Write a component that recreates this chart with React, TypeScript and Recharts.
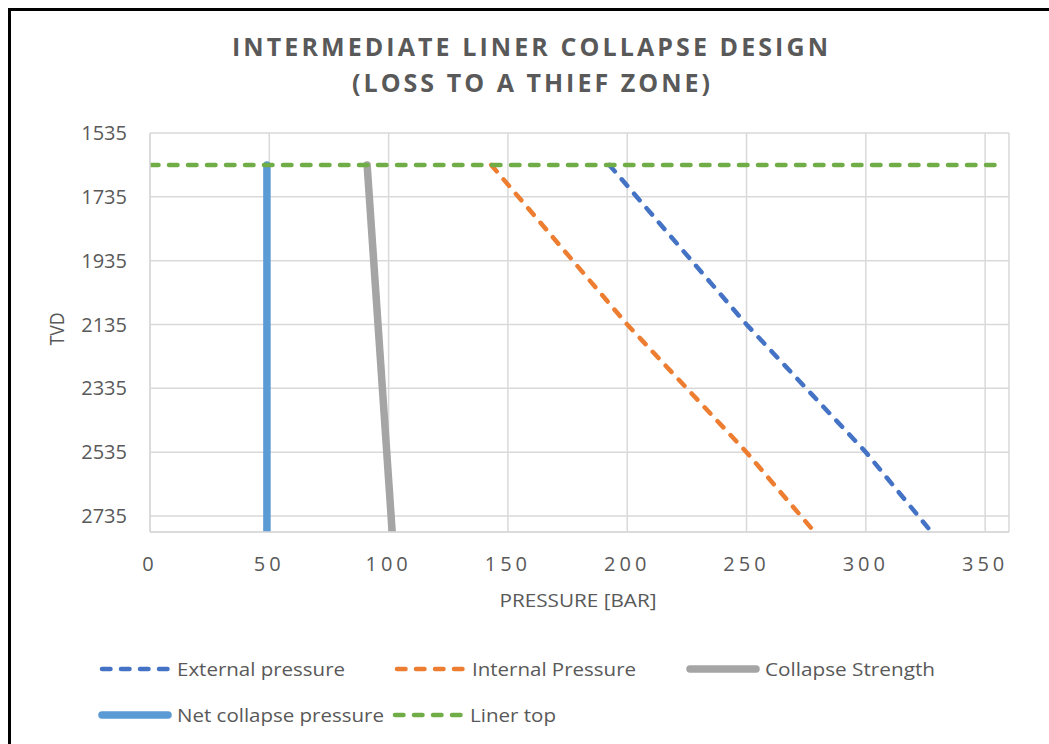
import React from 'react';
import { LineChart, Line, XAxis, YAxis, CartesianGrid } from 'recharts';

const pressureTicks = [0, 50, 100, 150, 200, 250, 300, 350];
const tvdTicks = [1535, 1735, 1935, 2135, 2335, 2535, 2735];

const externalPressure = [
  { pressure: 192.5, tvd: 1635 },
  { pressure: 250, tvd: 2135 },
  { pressure: 300, tvd: 2535 },
  { pressure: 327.5, tvd: 2785 },
];
const internalPressure = [
  { pressure: 143, tvd: 1635 },
  { pressure: 200, tvd: 2135 },
  { pressure: 250, tvd: 2535 },
  { pressure: 278.5, tvd: 2785 },
];
const collapseStrength = [
  { pressure: 91, tvd: 1635 },
  { pressure: 101.5, tvd: 2785 },
];
const netCollapsePressure = [
  { pressure: 49, tvd: 1635 },
  { pressure: 49, tvd: 2785 },
];
const linerTop = [
  { pressure: 0, tvd: 1635 },
  { pressure: 358, tvd: 1635 },
];

const seriesNames = [
  'External pressure',
  'Internal Pressure',
  'Collapse Strength',
  'Net collapse pressure',
  'Liner top',
];
const titleLines = ['INTERMEDIATE LINER COLLAPSE DESIGN', '(LOSS TO A THIEF ZONE)'];
const xAxisTitle = 'PRESSURE [BAR]';
const yAxisTitle = 'TVD';

const FONT = '"Open Sans", "Noto Sans", sans-serif';
const TEXT = '#595959';
const GRID = '#D9D9D9';
const DASH = '8.5 10.5';

const seriesStyles = [
  { data: externalPressure, color: '#4472C4', width: 4.5, dash: DASH },
  { data: internalPressure, color: '#ED7D31', width: 4.5, dash: DASH },
  { data: collapseStrength, color: '#A5A5A5', width: 7.5, dash: undefined },
  { data: netCollapsePressure, color: '#5B9BD5', width: 7.5, dash: undefined },
  { data: linerTop, color: '#70AD47', width: 4.5, dash: DASH },
];

const legendLayout = [
  { x: 100, y: 669, w: 168 },
  { x: 395, y: 669, w: 164 },
  { x: 688, y: 669, w: 170 },
  { x: 100, y: 715, w: 207 },
  { x: 393, y: 715, w: 86 },
];

const XTick = (props: any) => {
  const { x, y, payload } = props;
  return (
    <text x={x} y={y + 39} textAnchor="middle" fontSize={20} fill={TEXT} fontFamily={FONT} letterSpacing={4}>
      {payload.value}
    </text>
  );
};

const YTick = (props: any) => {
  const { x, y, payload } = props;
  return (
    <text x={x - 23} y={y + 7} textAnchor="end" fontSize={20} fill={TEXT} fontFamily={FONT}>
      {payload.value}
    </text>
  );
};

export default function App() {
  return (
    <div style={{ position: 'fixed', left: 0, top: 0, width: 1049, height: 744, background: '#fff', overflow: 'hidden' }}>
      <div
        style={{
          position: 'absolute',
          left: 8,
          top: 8,
          width: 1041,
          height: 736,
          borderTop: '3px solid #000',
          borderLeft: '3px solid #000',
          boxSizing: 'border-box',
        }}
      />
      <div style={{ position: 'absolute', left: 0, top: 0 }}>
        <LineChart width={1049} height={744} margin={{ top: 133, right: 40, bottom: 182, left: 0 }}>
          <CartesianGrid stroke={GRID} strokeWidth={1.5} />
          <XAxis
            type="number"
            dataKey="pressure"
            domain={[0, 360]}
            ticks={pressureTicks}
            allowDataOverflow
            height={30}
            tickSize={0}
            tickMargin={0}
            tickLine={false}
            axisLine={{ stroke: GRID, strokeWidth: 1.5 }}
            tick={<XTick />}
          />
          <YAxis
            type="number"
            dataKey="tvd"
            domain={[1535, 2785]}
            ticks={tvdTicks}
            reversed
            allowDataOverflow
            width={150}
            tickSize={0}
            tickMargin={0}
            tickLine={false}
            axisLine={{ stroke: GRID, strokeWidth: 1.5 }}
            tick={<YTick />}
          />
          {seriesStyles.map((s, i) => (
            <Line
              key={seriesNames[i]}
              name={seriesNames[i]}
              data={s.data}
              dataKey="tvd"
              type="linear"
              stroke={s.color}
              strokeWidth={s.width}
              strokeDasharray={s.dash}
              strokeLinecap="round"
              dot={false}
              activeDot={false}
              isAnimationActive={false}
            />
          ))}
        </LineChart>
      </div>
      <svg width={1049} height={744} style={{ position: 'absolute', left: 0, top: 0, pointerEvents: 'none' }}>
        <text x={530} y={56} textAnchor="middle" fontSize={25} fontWeight="bold" fill={TEXT} fontFamily={FONT} textLength={596} lengthAdjust="spacing">
          {titleLines[0]}
        </text>
        <text x={531} y={92} textAnchor="middle" fontSize={25} fontWeight="bold" fill={TEXT} fontFamily={FONT} textLength={358} lengthAdjust="spacing">
          {titleLines[1]}
        </text>
        <text x={578} y={607} textAnchor="middle" fontSize={19} fill={TEXT} fontFamily={FONT} textLength={157} lengthAdjust="spacingAndGlyphs">
          {xAxisTitle}
        </text>
        <text transform="translate(64,329) rotate(-90)" textAnchor="middle" fontSize={20} fill={TEXT} fontFamily={FONT} textLength={33} lengthAdjust="spacingAndGlyphs">
          {yAxisTitle}
        </text>
        {legendLayout.map((l, i) => {
          const s = seriesStyles[i];
          return (
            <g key={seriesNames[i]}>
              <line
                x1={l.x + 2}
                y1={l.y}
                x2={l.x + 68}
                y2={l.y}
                stroke={s.color}
                strokeWidth={s.width}
                strokeDasharray={s.dash}
                strokeLinecap="round"
              />
              <text x={l.x + 77} y={l.y + 7} fontSize={19} fill={TEXT} fontFamily={FONT} textLength={l.w} lengthAdjust="spacingAndGlyphs">
                {seriesNames[i]}
              </text>
            </g>
          );
        })}
      </svg>
    </div>
  );
}
